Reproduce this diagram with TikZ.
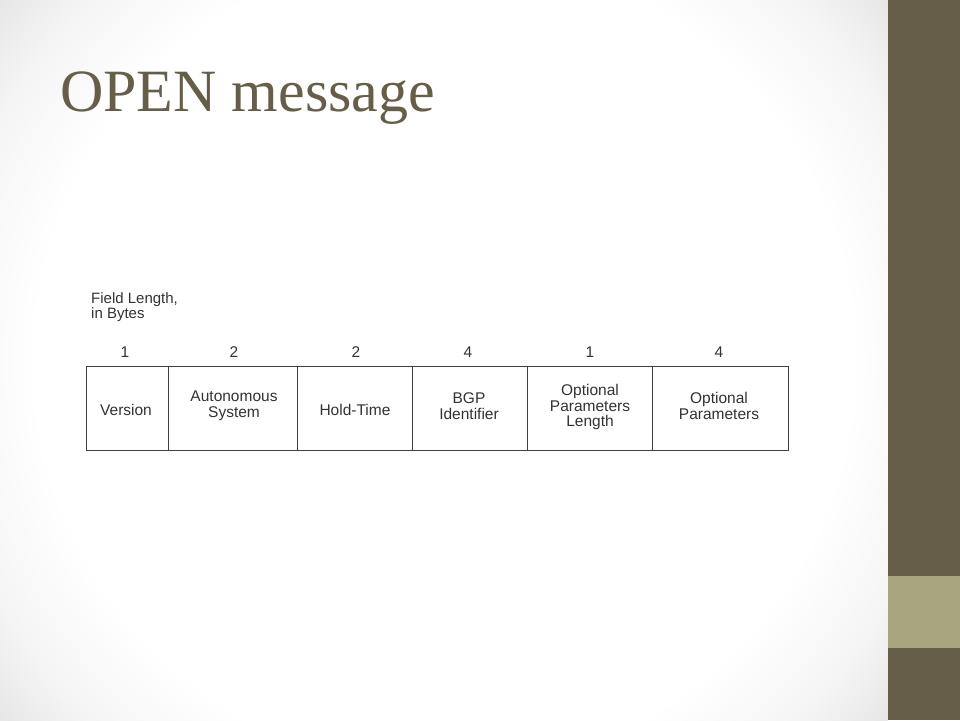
\documentclass[tikz,border=0pt]{standalone}
\usepackage{fontspec}
\setmainfont{Liberation Serif}
\newfontfamily\diagfont{Liberation Sans}
\definecolor{olive}{HTML}{665E48}
\definecolor{lightolive}{HTML}{A8A67E}
\definecolor{txt}{HTML}{333333}
\pgfdeclareradialshading{slidebg}{\pgfpoint{0bp}{0bp}}{%
  color(0bp)=(white); color(17bp)=(white); color(21bp)=(black!4); color(24bp)=(black!10); color(25bp)=(black!11); color(50bp)=(black!11)}
\begin{document}
\begin{tikzpicture}[x=1pt,y=-1pt,
  lbl/.style={font=\diagfont\fontsize{15.5}{15.5}\selectfont, text=txt, align=center, inner sep=0pt},
  num/.style={font=\diagfont\fontsize{15.5}{16}\selectfont, text=txt, inner sep=0pt},
  fieldline/.style={draw=black!75, line width=0.9pt}]
\useasboundingbox (0,0) rectangle (960,720);
\begin{scope}
\clip (0,0) rectangle (888,720);
\shade[shading=slidebg] (-156,-240) rectangle (1044,960);
\end{scope}
\fill[olive] (888,0) rectangle (960,720);
\fill[lightolive] (888,576) rectangle (960,648);
\node[anchor=base west, inner sep=0pt, text=olive, font=\fontsize{60}{62}\selectfont] (title) at (60,111) {OPEN message};
\node[anchor=north west, align=left, inner sep=0pt, font=\diagfont\fontsize{15}{15}\selectfont, text=txt] (fl) at (91,292) {Field Length,\\in Bytes};
% box
\draw[fieldline] (86,366) rectangle (788,450);
\foreach \x/\n in {168/a,297/b,412/c,527/d,652/e}{
  \coordinate (t\n) at (\x,366);
  \coordinate (b\n) at (\x,450);
  \draw[fieldline] (t\n) -- (b\n);
}
\node[num] (n1) at (125,352) {1};
\node[num] (n2) at (234,352) {2};
\node[num] (n3) at (356,352) {2};
\node[num] (n4) at (468,352) {4};
\node[num] (n5) at (590,352) {1};
\node[num] (n6) at (719,352) {4};
\node[lbl] (v) at (126,410) {Version};
\node[lbl] (as) at (234,406) {Autonomous\\System};
\node[lbl] (ht) at (355,410) {Hold-Time};
\node[lbl] (bgp) at (469,406) {BGP\\Identifier};
\node[lbl] (opl) at (590,407) {Optional\\Parameters\\Length};
\node[lbl] (op) at (719,406) {Optional\\Parameters};
\end{tikzpicture}
\end{document}
